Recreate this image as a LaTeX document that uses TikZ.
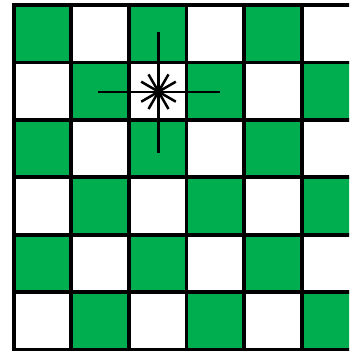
\documentclass[tikz,border=0pt]{standalone}
\usetikzlibrary{calc}
\definecolor{boardgreen}{RGB}{0,173,79}
\begin{document}
\begin{tikzpicture}[x=1pt,y=-1pt,
  gridline/.style={line width=3.8pt,black},
  crossline/.style={line width=2.2pt,black},
  rayline/.style={line width=2.5pt,black}]
\useasboundingbox (0,0) rectangle (349,351);
\begin{scope}
\clip (0,0) rectangle (349,351);
\foreach \r in {0,...,5}{
  \foreach \c in {0,...,5}{
    \pgfmathtruncatemacro{\parity}{mod(\r+\c,2)}
    \ifnum\parity=0
      \fill[boardgreen] (13.6+57.65*\c,5+57.42*\r) rectangle (13.6+57.65*\c+57.65,5+57.42*\r+57.42);
    \fi
  }
}
\foreach \c in {0,...,6}{
  \draw[gridline] (13.6+57.65*\c,3.1) -- (13.6+57.65*\c,351);
}
\foreach \r in {0,...,6}{
  \draw[gridline] (11.7,5+57.42*\r) -- (360,5+57.42*\r);
}
\end{scope}
\coordinate (star) at (158.5,91.7);
\draw[crossline] ($(star)+(-61,0)$) -- ($(star)+(61,0)$);
\draw[crossline] ($(star)+(0,-60)$) -- ($(star)+(0,61)$);
\foreach \a in {30,60,120,150}{
  \draw[rayline] ($(star)+(\a:20)$) -- ($(star)+(\a+180:20)$);
}
\end{tikzpicture}
\end{document}
